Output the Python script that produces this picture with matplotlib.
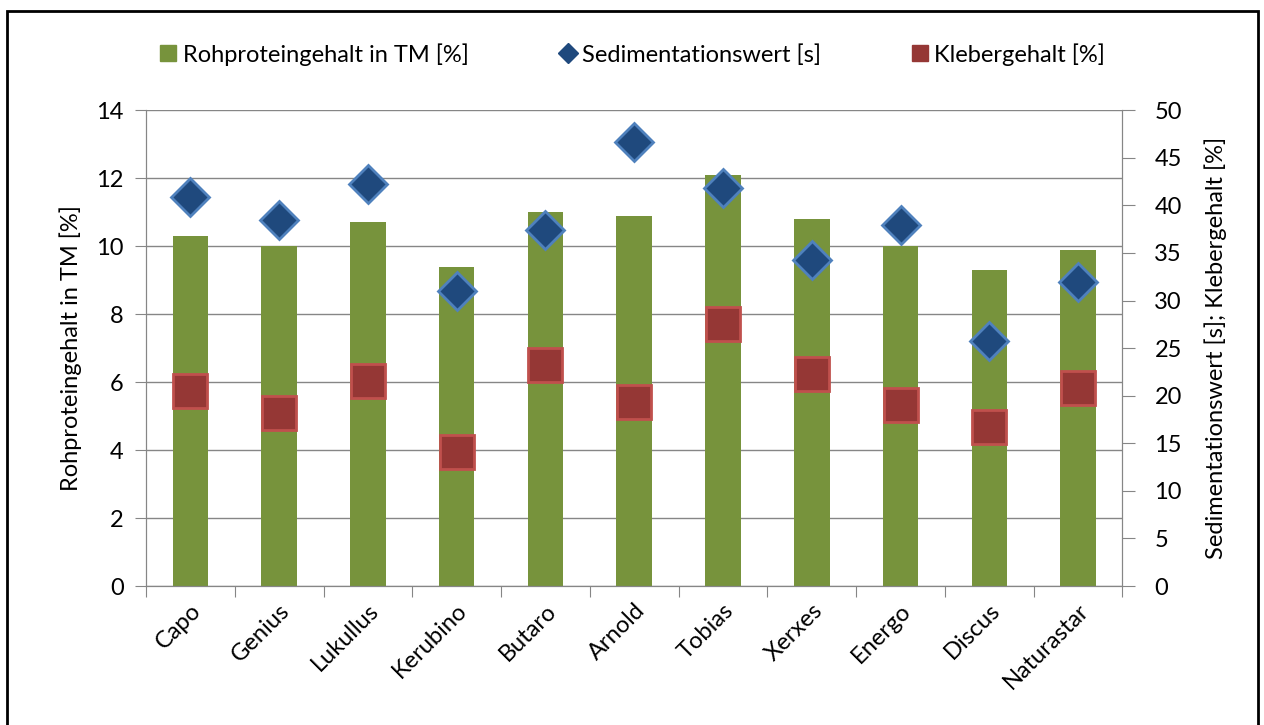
import numpy as np
import matplotlib.pyplot as plt
from matplotlib.patches import Rectangle
from matplotlib.lines import Line2D

plt.rcParams["font.family"] = ["Lato", "DejaVu Sans"]

sorten = ["Capo", "Genius", "Lukullus", "Kerubino", "Butaro", "Arnold",
          "Tobias", "Xerxes", "Energo", "Discus", "Naturastar"]
rohprotein = [10.3, 10.0, 10.7, 9.4, 11.0, 10.9, 12.1, 10.8, 10.0, 9.3, 9.9]
sedimentation = [40.9, 38.5, 42.2, 31.0, 37.4, 46.7, 41.8, 34.3, 37.9, 25.7, 31.9]
kleber = [20.5, 18.2, 21.5, 14.1, 23.2, 19.3, 27.5, 22.3, 19.0, 16.7, 20.8]

green = "#77933c"
blue_face = "#1f497d"
blue_edge = "#4f81bd"
red_face = "#953735"
red_edge = "#c0504d"
grey = "#868686"
fs = 17

fig = plt.figure(figsize=(12.64, 7.25), dpi=100)
ax = fig.add_axes([0.1155, 0.1917, 0.7725, 0.6563])
ax2 = ax.twinx()

x = np.arange(len(sorten))
ax.bar(x, rohprotein, width=0.4, color=green, zorder=2)
ax2.plot(x, sedimentation, linestyle="none", marker="D", markersize=19.5,
         markerfacecolor=blue_face, markeredgecolor=blue_edge, markeredgewidth=2)
ax2.plot(x, kleber, linestyle="none", marker="s", markersize=24,
         markerfacecolor=red_face, markeredgecolor=red_edge, markeredgewidth=2)

ax.set_xlim(-0.5, len(sorten) - 0.5)
ax.set_ylim(0, 14)
ax2.set_ylim(0, 50)
ax.set_yticks(np.arange(0, 15, 2))
ax2.set_yticks(np.arange(0, 51, 5))

# category boundaries get tick marks, centers get the labels
ax.set_xticks(np.arange(-0.5, len(sorten), 1.0))
ax.set_xticklabels([])
ax.set_xticks(x, minor=True)
ax.set_xticklabels(sorten, minor=True, rotation=45, ha="right",
                   rotation_mode="anchor", fontsize=fs)
ax.tick_params(axis="x", which="major", length=8, color=grey)
ax.tick_params(axis="x", which="minor", length=0, pad=10)

ax.tick_params(axis="y", length=8, color=grey, labelsize=fs, pad=8)
ax2.tick_params(axis="y", length=9, color=grey, labelsize=fs, pad=14)

ax.grid(axis="y", color=grey, linewidth=1)
ax.set_axisbelow(True)

for a in (ax, ax2):
    a.spines["top"].set_visible(False)
    for s in ("left", "right", "bottom"):
        a.spines[s].set_color(grey)

ax.set_ylabel("Rohproteingehalt in TM [%]", fontsize=fs, labelpad=10)
ax2.set_ylabel("Sedimentationswert [s]; Klebergehalt [%]", fontsize=fs, labelpad=16)

handles = [
    Line2D([], [], linestyle="none", marker="s", markersize=12, color=green),
    Line2D([], [], linestyle="none", marker="D", markersize=10,
           markerfacecolor=blue_face, markeredgecolor=blue_face),
    Line2D([], [], linestyle="none", marker="s", markersize=12,
           markerfacecolor=red_face, markeredgecolor=red_face),
]
labels = ["Rohproteingehalt in TM [%]", "Sedimentationswert [s]", "Klebergehalt [%]"]
fig.legend(handles, labels, loc="center", bbox_to_anchor=(0.5, 0.925), ncol=3,
           frameon=False, fontsize=fs, handlelength=0.8, handletextpad=0.2,
           columnspacing=3.8)

# outer chart frame
fig.patches.append(Rectangle((7 / 1264, -0.05), 1251 / 1264, 0.05 + 714 / 725,
                             transform=fig.transFigure, fill=False,
                             edgecolor="black", linewidth=2, clip_on=False))

fig.savefig("out.png", dpi=100)
